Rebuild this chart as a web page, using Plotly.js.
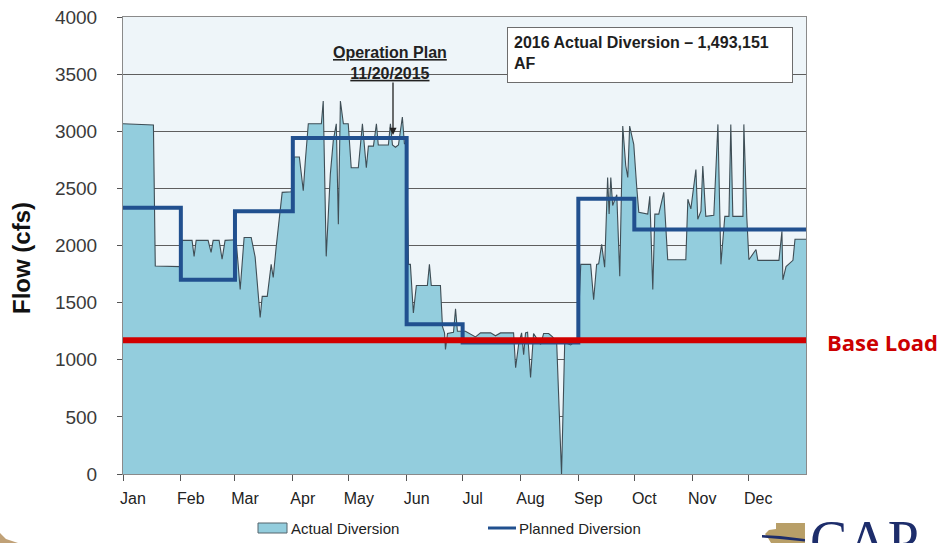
<!DOCTYPE html>
<html>
<head>
<meta charset="utf-8">
<script src="https://cdn.plot.ly/plotly-3.0.1.min.js"></script>
<style>
  html, body { margin: 0; padding: 0; background: #ffffff; }
  #chart { width: 947px; height: 543px; }
</style>
</head>
<body>
<div id="chart"></div>
<script>
// Month axis (day of 2016, leap year)
const monthStart = [0, 31, 60, 91, 121, 152, 182, 213, 244, 274, 305, 335];
const monthNames = ['Jan', 'Feb', 'Mar', 'Apr', 'May', 'Jun', 'Jul', 'Aug', 'Sep', 'Oct', 'Nov', 'Dec'];
const yearEnd = 366;

// Planned diversion, one level per month (cfs)
const plannedFlow = [2330, 1700, 2300, 2940, 2940, 1310, 1150, 1150, 2410, 2140, 2140, 2140];

// Base load (cfs)
const baseLoad = 1170;

// Actual diversion, daily flow breakpoints (day of year, cfs)
const actualDay = [
  0, 16.3, 17.3, 30.6,
  31.7, 37, 38.1, 39.2, 45.6, 47.2, 48.3, 51.5, 53.1, 54.7,
  60.6, 62.8, 64.9, 68.7, 70.8, 73.5, 74.6, 77.3, 79.4, 80.5, 82.1, 85.3, 90.2,
  91.8, 94.5, 96.6, 97.7, 99.3, 106.3, 107.3, 108.9, 111.1, 112.7, 114.3, 115.4, 116.5, 118.1, 120.7,
  122.3, 126.1, 128.3, 130.4, 131.5, 134.2, 135.8, 136.8, 142.2, 143.3, 144.4, 146, 147.6, 149.7, 150.8, 151.9,
  153, 154, 155.6, 157.2, 163.1, 164.2, 165.2, 170.1, 171.2, 172.3, 172.8, 173.9, 177.1, 178.2, 179.2,
  183.5, 188.9, 191.6, 197, 199.6, 202.3, 209.3, 210.4, 212,
  213.6, 214.7, 215.7, 216.8, 218.4, 220, 223.8, 225.4, 228.1, 230.2, 232.4, 235, 236.7, 239.9, 241.5, 243.6,
  245.3, 250.6, 252.2, 253.8, 254.9, 256.5, 258.1, 259.7, 260.5, 261.4, 262.4, 264.6, 266.2, 267.8, 269.4, 270.5, 271.5, 273.7,
  275.3, 276.4, 281.2, 282.3, 283.9, 285, 287.1, 289.8, 291.9, 301.6, 302.7, 304.3,
  307, 308, 309.7, 310.7, 312.3, 316.6, 318.8, 320.4, 322.5, 324.7, 325.7, 326.8, 332.2, 332.7, 334.3,
  335.4, 339.2, 340.2, 351.5, 353.1, 353.6, 355.3, 359, 360.1, 366
];
const actualFlow = [
  3065, 3055, 1820, 1815,
  2045, 2045, 1905, 2045, 2045, 1940, 2045, 2045, 1880, 2045,
  2050, 1615, 2070, 2070, 1900, 1370, 1555, 1555, 1835, 1720, 1990, 2465, 2470,
  2775, 2775, 2480, 2740, 3065, 3065, 3265, 1905, 2625, 2920, 3065, 2185, 3265, 3065, 3065,
  2680, 2680, 3065, 2680, 2870, 2870, 3065, 2880, 2880, 3065, 2880, 2860, 2880, 3125, 2890, 2890,
  1835, 1835, 1410, 1650, 1650, 1835, 1650, 1650, 1290, 1235, 1090, 1230, 1240, 1445, 1250,
  1250, 1200, 1235, 1235, 1210, 1235, 1235, 930, 1135,
  1235, 1045, 1235, 1240, 845, 1230, 1135, 1230, 1230, 1200, 1150, 0, 1150, 1130, 1150, 1150,
  1835, 1835, 1525, 1835, 1840, 2010, 1810, 2595, 2275, 2595, 2350, 2445, 1730, 3045, 2700, 2595, 3045, 2885,
  2510, 2290, 2275, 2430, 1615, 2275, 2275, 2465, 1875, 1875, 2405, 2320,
  2665, 2230, 2300, 2695, 2255, 2265, 3060, 1835, 2255, 2255, 3060, 2255, 2255, 3060, 2240,
  1875, 1965, 1870, 1870, 2125, 1700, 1815, 1870, 2055, 2055
];

// Plot frame in page pixels, used to place the decorations around the axes
const L = 123, R = 806, T = 17, B = 474;
const px = x => (x - L) / (R - L);
const py = y => (B - y) / (B - T);
const pathOf = pts => pts.map((p, i) => (i ? 'L' : 'M') + px(p[0]).toFixed(4) + ',' + py(p[1]).toFixed(4)).join(' ') + ' Z';

const narrow = 'Liberation Sans Narrow, Arial Narrow, Liberation Sans, Arial, sans-serif';
const sans = 'Liberation Sans, Arial, Helvetica, sans-serif';

const actual = {
  type: 'scatter',
  mode: 'lines',
  name: 'Actual Diversion',
  x: actualDay,
  y: actualFlow,
  fill: 'tozeroy',
  fillcolor: '#93cddd',
  line: { color: '#3f4e56', width: 1.1 },
  hoverinfo: 'skip',
  showlegend: false
};

const planned = {
  type: 'scatter',
  mode: 'lines',
  name: 'Planned Diversion',
  x: monthStart.concat([yearEnd]),
  y: plannedFlow.concat([plannedFlow[plannedFlow.length - 1]]),
  line: { color: '#21508f', width: 4, shape: 'hv' },
  hoverinfo: 'skip',
  showlegend: false
};

const layout = {
  width: 947,
  height: 543,
  margin: { l: L, r: 947 - R, t: T, b: 543 - B },
  paper_bgcolor: '#ffffff',
  plot_bgcolor: '#eef5f9',
  showlegend: false,
  xaxis: {
    range: [0, yearEnd],
    tickmode: 'array',
    tickvals: monthStart,
    ticktext: monthNames,
    ticks: 'outside',
    ticklen: 6,
    tickcolor: '#555555',
    ticklabelshift: 10,
    ticklabelstandoff: 4,
    tickfont: { family: narrow, size: 16, color: '#222222' },
    showgrid: false,
    zeroline: false,
    showline: true,
    linecolor: '#8a8a8a',
    linewidth: 1,
    mirror: true,
    fixedrange: true
  },
  yaxis: {
    range: [0, 4000],
    dtick: 500,
    ticks: 'outside',
    ticklen: 5,
    tickcolor: '#555555',
    ticklabelstandoff: 16,
    tickfont: { family: sans, size: 19, color: '#3a3a3a' },
    showgrid: true,
    gridcolor: '#5e5e5e',
    gridwidth: 1,
    zeroline: false,
    showline: true,
    linecolor: '#8a8a8a',
    linewidth: 1,
    mirror: true,
    fixedrange: true
  },
  shapes: [
    // base load
    { type: 'line', xref: 'paper', yref: 'y', x0: 0, x1: 1, y0: baseLoad, y1: baseLoad,
      line: { color: '#d00000', width: 6 }, layer: 'above' },
    // legend swatches
    { type: 'rect', xref: 'paper', yref: 'paper', x0: px(258), x1: px(287), y0: py(533), y1: py(523),
      fillcolor: '#93cddd', line: { color: '#55646c', width: 1 } },
    { type: 'line', xref: 'paper', yref: 'paper', x0: px(488), x1: px(516), y0: py(528), y1: py(528),
      line: { color: '#21508f', width: 3 } },
    // logo mark
    { type: 'path', xref: 'paper', yref: 'paper',
      path: pathOf([[776, 523], [805, 523], [805, 543], [771, 543], [768, 538], [765, 534], [769, 530], [776, 529]]),
      fillcolor: '#b89f68', line: { width: 0 } },
    { type: 'path', xref: 'paper', yref: 'paper',
      path: pathOf([[762, 535], [780, 536], [805, 539], [805, 541.5], [780, 539], [762, 537.5]]),
      fillcolor: '#1d2d6b', line: { width: 0 } },
    // page corner
    { type: 'path', xref: 'paper', yref: 'paper',
      path: pathOf([[0, 533], [6, 539], [18, 543], [0, 543]]),
      fillcolor: '#b08a55', opacity: 0.8, line: { width: 0 } }
  ],
  annotations: [
    {
      xref: 'paper', yref: 'paper', x: px(21), y: py(258), xanchor: 'center', yanchor: 'middle',
      text: '<b>Flow (cfs)</b>', textangle: -90,
      font: { family: sans, size: 24, color: '#111111' }, showarrow: false
    },
    {
      xref: 'paper', yref: 'paper', x: px(390), y: py(63), xanchor: 'center', yanchor: 'middle',
      text: '<b><u>Operation Plan</u></b><br><b><u>11/20/2015</u></b>',
      font: { family: sans, size: 16, color: '#222222' }, showarrow: false
    },
    {
      xref: 'paper', yref: 'paper', x: px(393), y: py(135), ax: 0, ay: -54,
      text: '', showarrow: true, arrowhead: 2, arrowsize: 1.1, arrowwidth: 1.3, arrowcolor: '#222222'
    },
    {
      xref: 'paper', yref: 'paper', x: px(507), y: py(27), xanchor: 'left', yanchor: 'top',
      text: '<b>2016 Actual Diversion – 1,493,151</b><br><b>AF</b>',
      align: 'left', valign: 'top', width: 272, height: 42, borderpad: 6,
      bgcolor: '#ffffff', bordercolor: '#6d6d6d', borderwidth: 1,
      font: { family: sans, size: 16, color: '#1e1e1e' }, showarrow: false
    },
    {
      xref: 'paper', yref: 'paper', x: px(825), y: py(342), xanchor: 'left', yanchor: 'middle',
      text: '<b>Base Load</b>', font: { family: 'Open Sans, Liberation Sans, sans-serif', size: 22, color: '#cc0000' },
      showarrow: false
    },
    {
      xref: 'paper', yref: 'paper', x: px(289), y: py(528), xanchor: 'left', yanchor: 'middle',
      text: 'Actual Diversion', font: { family: narrow, size: 15, color: '#222222' }, showarrow: false
    },
    {
      xref: 'paper', yref: 'paper', x: px(517), y: py(528), xanchor: 'left', yanchor: 'middle',
      text: 'Planned Diversion', font: { family: narrow, size: 15, color: '#222222' }, showarrow: false
    },
    {
      xref: 'paper', yref: 'paper', x: px(808), y: py(508), xanchor: 'left', yanchor: 'top',
      text: 'CAP', font: { family: 'Liberation Serif, Times New Roman, serif', size: 56, color: '#1d2d6b' },
      showarrow: false
    }
  ]
};

Plotly.newPlot('chart', [actual, planned], layout, { displayModeBar: false, staticPlot: true });
</script>
</body>
</html>
